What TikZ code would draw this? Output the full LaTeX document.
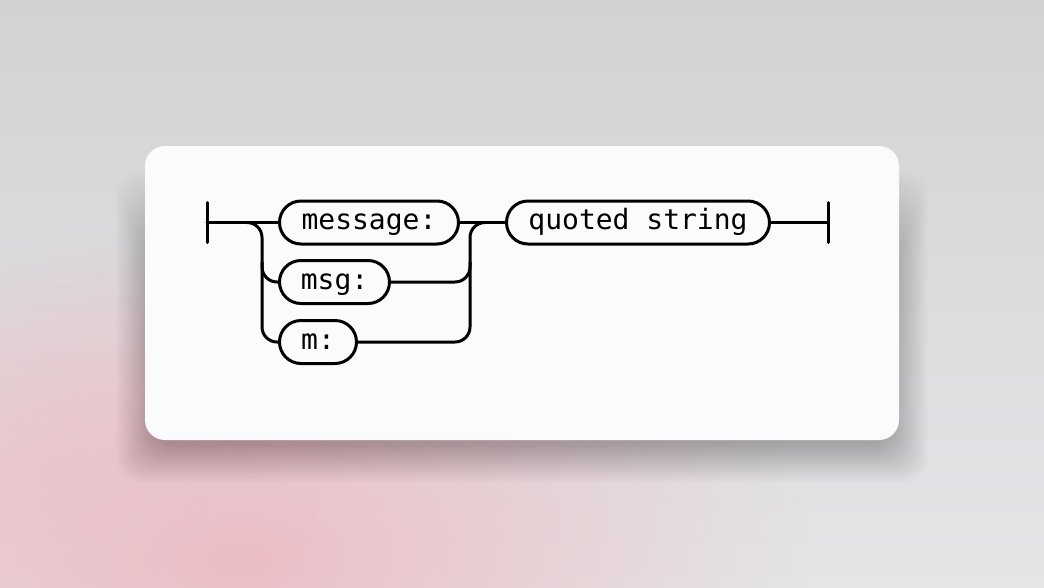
\documentclass[tikz,border=0pt]{standalone}
\usepackage{fontspec}
\newfontfamily\railfont{DejaVu Sans Mono}
\usetikzlibrary{calc,fadings}
\definecolor{bgtop}{RGB}{210,210,212}
\definecolor{bgbot}{RGB}{228,230,230}
\definecolor{bgpink}{RGB}{236,190,198}
\definecolor{card}{RGB}{251,251,253}
\tikzfading[name=blob, inner color=transparent!0, outer color=transparent!100]
\begin{document}
\begin{tikzpicture}[x=1pt,y=-1pt]
	\tikzstyle{track} = [line width=3pt, line cap=round]
	\tikzstyle{term} = [draw, line width=3pt, rounded corners=21.5pt, minimum height=43pt, inner xsep=0pt, text height=21pt, text depth=7pt, font=\railfont\fontsize{28}{34}\selectfont]
	\useasboundingbox (0,0) rectangle (1044,587);
	\shade[top color=bgtop, bottom color=bgbot] (0,0) rectangle (1044,587);
	\fill[bgpink, path fading=blob] (240,560) ellipse (580 and 340);
	\fill[bgpink, opacity=0.5, path fading=blob] (60,470) ellipse (260 and 220);
	\foreach \i in {1,...,30}
		\fill[black, opacity=0.009, rounded corners=24pt] (145+10-\i*1.3,260-\i*3) rectangle (899-10+\i*1.3,440+4+\i*1.3);
	\fill[card, rounded corners=20pt] (145,146) rectangle (899,440);
	\coordinate (S) at (207,222.5);
	\coordinate (E) at (828,222.5);
	\node[term, minimum width=179pt, anchor=west] (message) at (278,222.5) {message:};
	\node[term, minimum width=110pt, anchor=west] (msg) at (278,282) {msg:};
	\node[term, minimum width=77pt, anchor=west] (m) at (278,342) {m:};
	\node[term, minimum width=263pt, anchor=west] (quoted) at (505,222.5) {quoted string};
	\draw[track] ($(S)+(0,-20)$) -- ($(S)+(0,20)$);
	\draw[track] ($(E)+(0,-20)$) -- ($(E)+(0,20)$);
	\draw[track] (S) -- (message.west);
	\draw[track] (message.east) -- (quoted.west);
	\draw[track] (quoted.east) -- (E);
	\draw[track, rounded corners=15pt] (247,222.5) -| (262,342) -- (m.west);
	\draw[track, rounded corners=15pt] (262,262) |- (msg.west);
	\draw[track, rounded corners=15pt] (m.east) -| (470,222.5) -- (485,222.5);
	\draw[track, rounded corners=15pt] (msg.east) -| (470,262);
\end{tikzpicture}
\end{document}
